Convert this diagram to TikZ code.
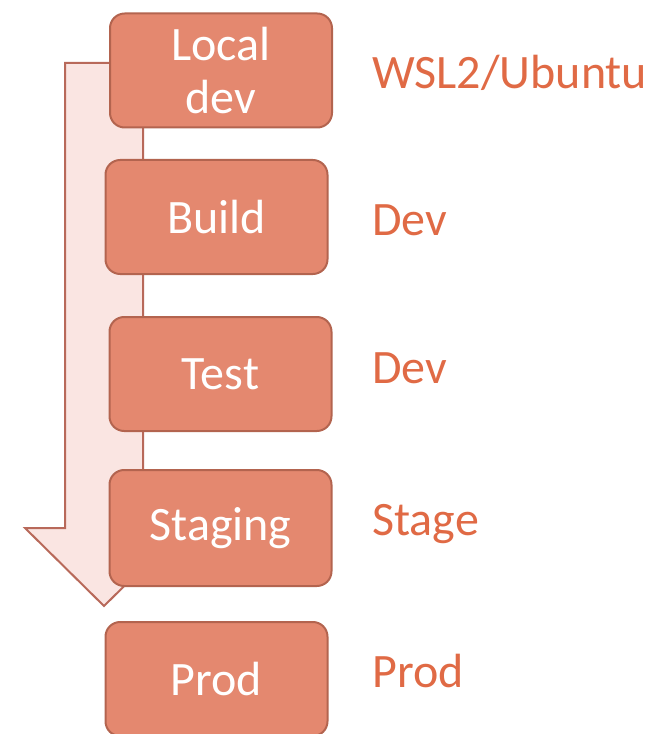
\documentclass[tikz,border=0pt]{standalone}
\usepackage{fontspec}
\setmainfont{Carlito}
\definecolor{boxfill}{HTML}{E4886F}
\definecolor{boxline}{HTML}{B3644F}
\definecolor{flowfill}{HTML}{FAE5E2}
\definecolor{flowline}{HTML}{B8695A}
\definecolor{envtext}{HTML}{E06A45}
\begin{document}
\begin{tikzpicture}[x=0.75pt,y=-0.75pt,
  stage/.style={draw=boxline, fill=boxfill, line width=1.5pt, rounded corners=11pt,
    minimum width=166.5pt, minimum height=85.5pt, inner sep=0pt, align=center,
    text=white, font=\fontsize{36}{40}\selectfont},
  envlabel/.style={anchor=base west, inner sep=0pt, text=envtext,
    font=\fontsize{36}{40}\selectfont}]
  \useasboundingbox (0,0) rectangle (649,734);
  % broad downward flow arrow behind the stages
  \draw[draw=flowline, fill=flowfill, line width=1.5pt, line join=miter]
    (65,63) -- (143,63) -- (143,528) -- (183,528) -- (104,606)
    -- (25,528) -- (65,528) -- cycle;
  % pipeline stages
  \node[stage] (local) at (221,70.5) {Local\\dev};
  \node[stage] (build) at (216.5,217) {Build};
  \node[stage] (test) at (220.5,374) {Test};
  \node[stage, minimum height=87pt] (staging) at (220.5,528) {Staging};
  \node[stage] (prod) at (216.5,679) {Prod};
  % target environments
  \node[envlabel] (envlocal) at (372,89) {WSL2/Ubuntu};
  \node[envlabel] (envbuild) at (372,235) {Dev};
  \node[envlabel] (envtest) at (372,383) {Dev};
  \node[envlabel] (envstaging) at (372,535) {Stage};
  \node[envlabel] (envprod) at (372,687) {Prod};
\end{tikzpicture}
\end{document}
